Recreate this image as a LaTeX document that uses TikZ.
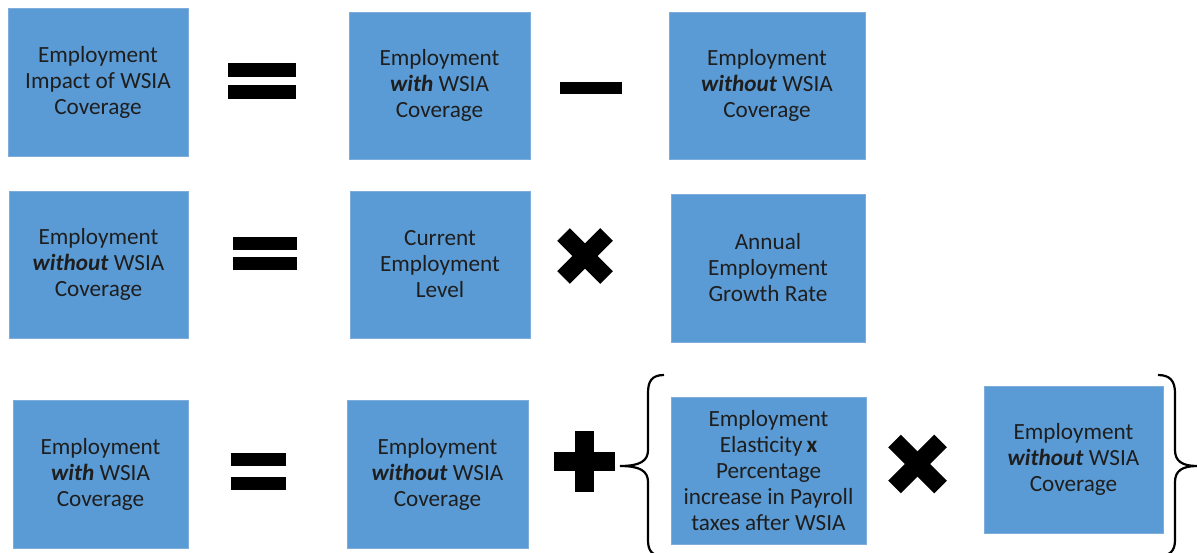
\documentclass[tikz,border=0pt]{standalone}
\usepackage{fontspec}
\setmainfont{Carlito}

\definecolor{boxblue}{HTML}{5B9BD5}
\definecolor{boxedge}{HTML}{7FADDB}
\definecolor{inkgray}{HTML}{1E1E1E}

\tikzset{
  term/.style={rectangle, fill=boxblue, draw=boxedge, line width=1pt, inner sep=0pt,
    align=center, text=inkgray, font=\fontsize{23.2}{26}\selectfont},
  opcross/.style={draw=black, line width=18pt, line cap=butt},
  bracket/.style={draw=black, line width=2.2pt}
}
\newcommand{\emp}[1]{\textbf{\textit{#1}}}

\begin{document}
\begin{tikzpicture}[x=1pt,y=-1pt]
  \useasboundingbox (0,0) rectangle (1197,552);

  % impact = with - without
  \node[term, minimum width=180pt, minimum height=148pt] (impact) at (98,82)
    {Employment\\Impact of WSIA\\Coverage};
  \node[term, minimum width=181pt, minimum height=147pt] (with) at (439.5,85.5)
    {Employment\\\emp{with} WSIA\\Coverage};
  \node[term, minimum width=196pt, minimum height=147pt] (without) at (767,85.5)
    {Employment\\\emp{without} WSIA\\Coverage};
  \fill (228,63) rectangle (296,77);
  \fill (228,85) rectangle (296,99);
  \fill (560,82) rectangle (622,94);

  % without = level x growth
  \node[term, minimum width=179pt, minimum height=147pt] (base) at (98.5,264.5)
    {Employment\\\emp{without} WSIA\\Coverage};
  \node[term, minimum width=180pt, minimum height=147pt] (level) at (440,264.5)
    {Current\\Employment\\Level};
  \node[term, minimum width=194pt, minimum height=148pt] (growth) at (768,268)
    {Annual\\Employment\\Growth Rate};
  \fill (233,237) rectangle (297,250);
  \fill (233,257) rectangle (297,270);
  \draw[opcross] (585,256) ++(-21.5,-21.5) -- ++(43,43);
  \draw[opcross] (585,256) ++(-21.5,21.5) -- ++(43,-43);

  % with = without + {elasticity x without}
  \node[term, minimum width=175pt, minimum height=148pt] (covered) at (100.5,474)
    {Employment\\\emp{with} WSIA\\Coverage};
  \node[term, minimum width=181pt, minimum height=148pt] (uncovered) at (437.5,474)
    {Employment\\\emp{without} WSIA\\Coverage};
  \node[term, minimum width=195pt, minimum height=147pt] (elastic) at (768.5,470.5)
    {Employment\\Elasticity\,\textbf{x}\\Percentage\\increase in Payroll\\taxes after WSIA};
  \node[term, minimum width=179pt, minimum height=147pt] (uncovered2) at (1073.5,459.5)
    {Employment\\\emp{without} WSIA\\Coverage};
  \fill (231,453) rectangle (286,466);
  \fill (231,477) rectangle (286,490);
  \fill (575,431) rectangle (594,492);
  \fill (554,452) rectangle (615,471);
  \draw[opcross] (917.5,464) ++(-23,-23) -- ++(46,46);
  \draw[opcross] (917.5,464) ++(-23,23) -- ++(46,-46);

  % braces
  \draw[bracket] (664,375) .. controls (652,375) and (648,381) .. (648,393)
    -- (648,450) .. controls (648,461) and (640,466) .. (620,466)
    .. controls (640,466) and (648,471) .. (648,482)
    -- (648,540) .. controls (648,551) and (652,556) .. (664,556);
  \draw[bracket] (1158,375) .. controls (1170,375) and (1175,381) .. (1175,393)
    -- (1175,450) .. controls (1175,461) and (1182,466) .. (1197,466)
    .. controls (1182,466) and (1175,471) .. (1175,482)
    -- (1175,540) .. controls (1175,551) and (1170,556) .. (1158,556);
\end{tikzpicture}
\end{document}
